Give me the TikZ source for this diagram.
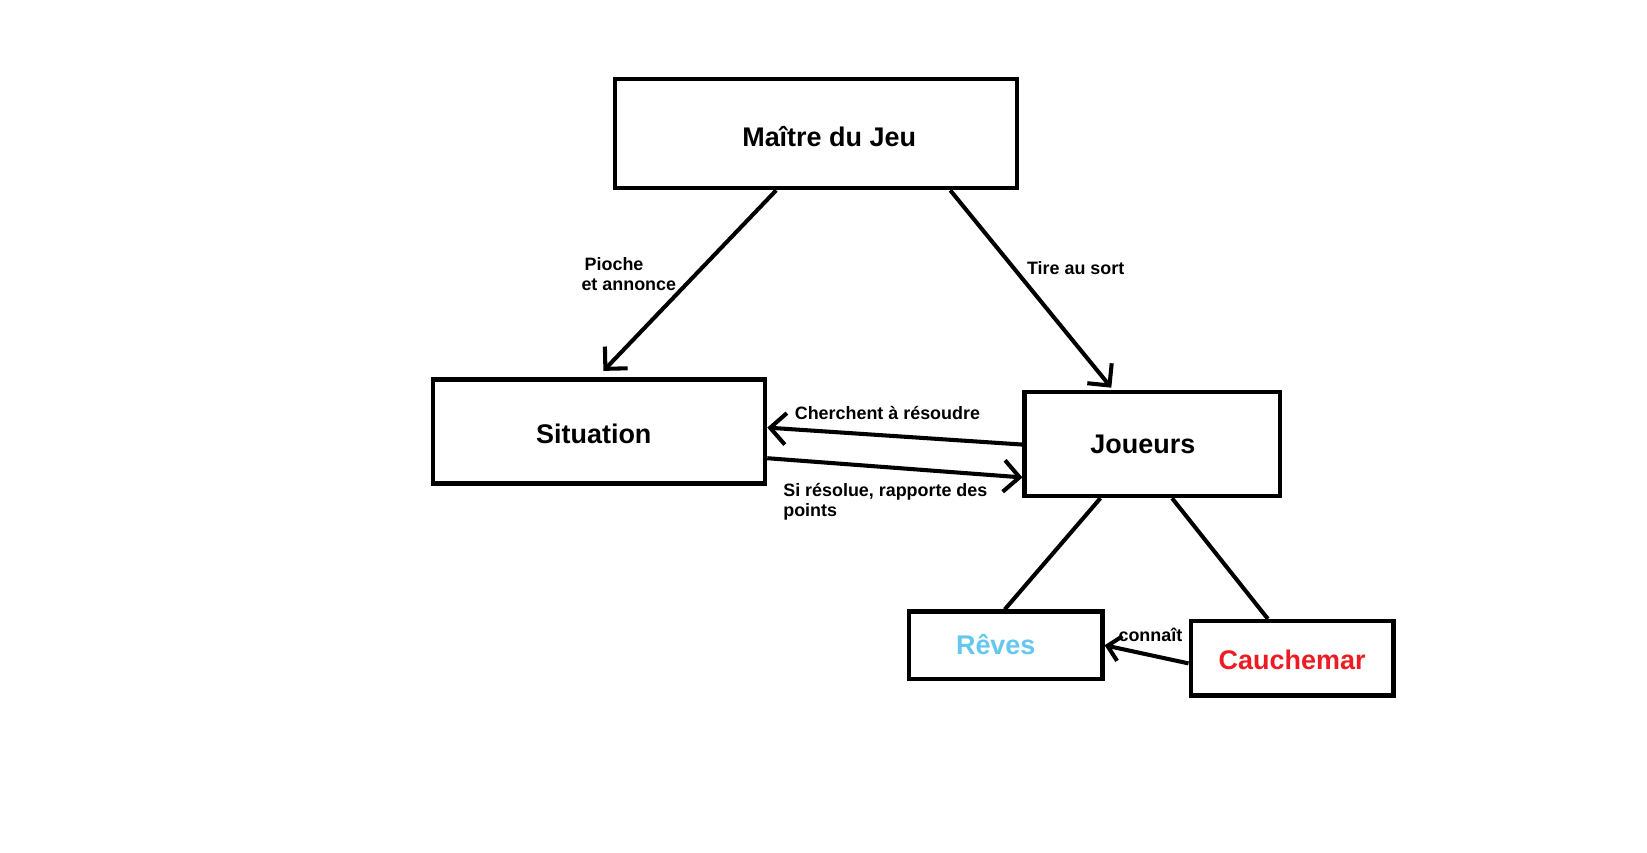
\documentclass[tikz,border=0pt]{standalone}
\usepackage{fontspec}
\setmainfont{Liberation Sans}
\usetikzlibrary{arrows.meta,calc}
\definecolor{revecol}{RGB}{100,200,238}
\definecolor{cauchcol}{RGB}{237,28,36}
\tikzset{
  box/.style={draw=black, line width=2.4pt, rectangle, inner sep=0pt},
  bigtxt/.style={font=\bfseries\fontsize{14.6pt}{17pt}\selectfont, inner sep=0pt},
  smalltxt/.style={font=\bfseries\fontsize{9.7pt}{10.8pt}\selectfont, inner sep=0pt, anchor=west, align=left},
  conn/.style={line width=2.2pt},
  arr/.style={conn, -{Straight Barb[length=0.3cm,width=0.6cm]}},
}
\begin{document}
\begin{tikzpicture}[x=0.02cm,y=-0.02cm]
\fill[white] (0,0) rectangle (1567.2,810.8);
\useasboundingbox (0,0) rectangle (1567.2,810.8);
% boxes
\node[box, minimum width=7.66cm, minimum height=2.08cm] (mj) at (776.5,127) {};
\node[box, minimum width=6.32cm, minimum height=1.98cm] (sit) at (570,410.5) {};
\node[box, minimum width=4.86cm, minimum height=1.98cm] (jou) at (1096.5,422.5) {};
\node[box, minimum width=3.68cm, minimum height=1.28cm] (rev) at (957,614) {};
\node[box, minimum width=3.86cm, minimum height=1.42cm] (cau) at (1229.5,626.5) {};
% box texts
\node[bigtxt] (mjt) at (789,130) {Maître du Jeu};
\node[bigtxt] (sitt) at (565,413) {Situation};
\node[bigtxt] (jout) at (1087.5,423) {Joueurs};
\node[bigtxt, text=revecol] (revt) at (947.5,613) {Rêves};
\node[bigtxt, text=cauchcol] (caut) at (1229.5,628) {Cauchemar};
% connectors
\draw[arr] ($(mj.south west)!0.402!(mj.south east)$) -- ($(sit.north west)!0.513!(sit.north east)+(0,-6)$);
\draw[arr] ($(mj.south west)!0.830!(mj.south east)$) -- ($(jou.north west)!0.342!(jou.north east)+(0,-2)$);
\draw[arr] ($(jou.north west)!0.505!(jou.south west)$) -- ($(sit.north east)!0.465!(sit.south east)$);
\draw[arr] ($(sit.north east)!0.747!(sit.south east)$) -- ($(jou.north west)!0.808!(jou.south west)$);
\draw[conn] ($(jou.south west)!0.300!(jou.south east)$) -- ($(rev.north west)!0.495!(rev.north east)$);
\draw[conn] ($(jou.south west)!0.576!(jou.south east)$) -- ($(cau.north west)!0.383!(cau.north east)$);
\draw[conn, -{Straight Barb[length=0.24cm,width=0.48cm]}] ($(cau.north west)!0.563!(cau.south west)$) -- (rev.east);
% labels
\node[smalltxt] (l1) at (553,260.5) {\hspace*{0.06cm}Pioche\\et annonce};
\node[smalltxt] (l2) at (977,255) {Tire au sort};
\node[smalltxt] (l3) at (756,393) {Cherchent à résoudre};
\node[smalltxt] (l4) at (745,477.5) {Si résolue, rapporte des\\points};
\node[smalltxt] (l5) at (1064,604) {connaît};
\end{tikzpicture}
\end{document}
